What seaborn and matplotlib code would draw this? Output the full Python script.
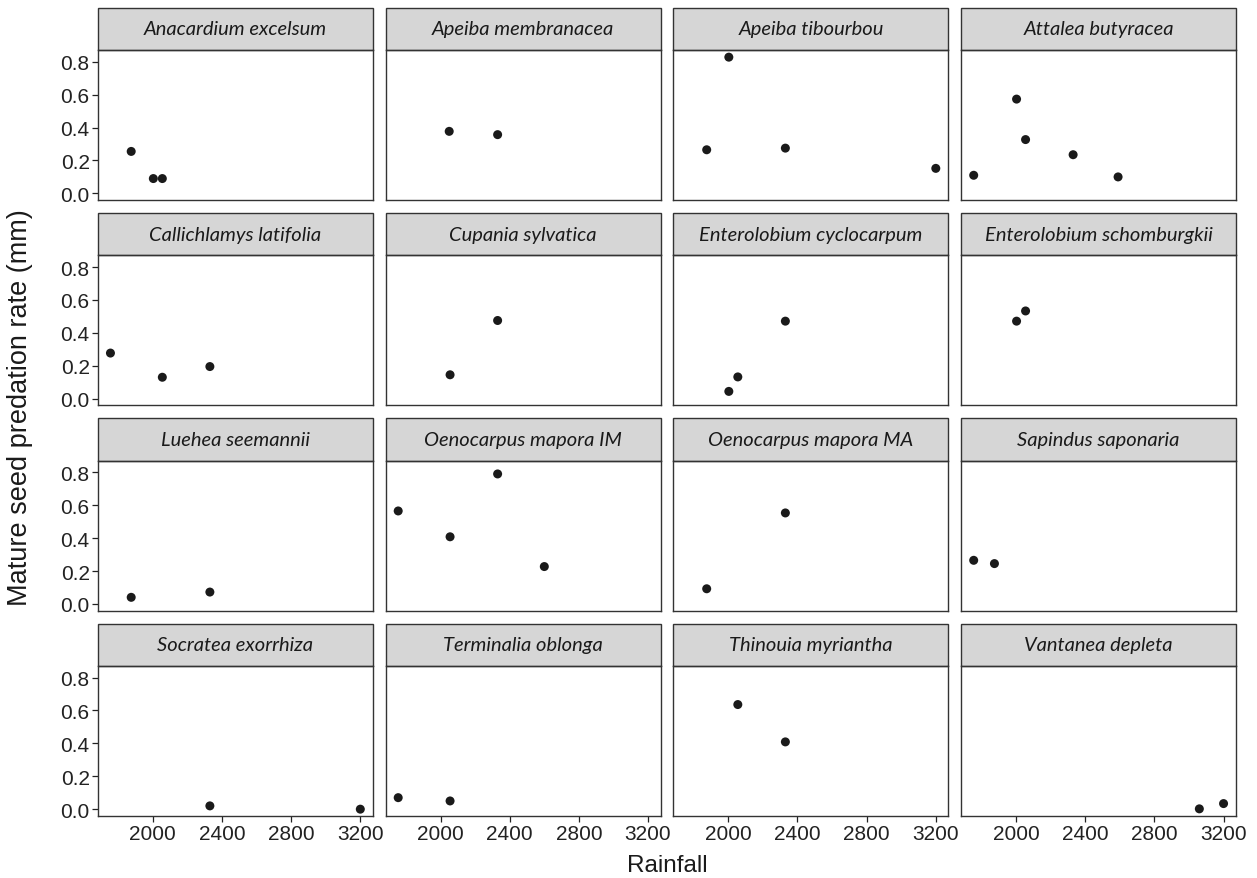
import matplotlib
matplotlib.use('Agg')
import matplotlib.pyplot as plt
import seaborn as sns
import pandas as pd
from matplotlib.patches import Rectangle
from matplotlib.ticker import FormatStrFormatter

# Panel order (facets)
species = ['Anacardium excelsum', 'Apeiba membranacea', 'Apeiba tibourbou', 'Attalea butyracea',
           'Callichlamys latifolia', 'Cupania sylvatica', 'Enterolobium cyclocarpum', 'Enterolobium schomburgkii',
           'Luehea seemannii', 'Oenocarpus mapora IM', 'Oenocarpus mapora MA', 'Sapindus saponaria',
           'Socratea exorrhiza', 'Terminalia oblonga', 'Thinouia myriantha', 'Vantanea depleta']

# One entry per point
point_species = (['Anacardium excelsum'] * 3 + ['Apeiba membranacea'] * 2 + ['Apeiba tibourbou'] * 4 +
                 ['Attalea butyracea'] * 5 + ['Callichlamys latifolia'] * 3 + ['Cupania sylvatica'] * 2 +
                 ['Enterolobium cyclocarpum'] * 3 + ['Enterolobium schomburgkii'] * 2 + ['Luehea seemannii'] * 2 +
                 ['Oenocarpus mapora IM'] * 4 + ['Oenocarpus mapora MA'] * 2 + ['Sapindus saponaria'] * 2 +
                 ['Socratea exorrhiza'] * 2 + ['Terminalia oblonga'] * 2 + ['Thinouia myriantha'] * 2 +
                 ['Vantanea depleta'] * 2)
rainfall = [1875, 2003, 2055,
            2050, 2330,
            1875, 2003, 2330, 3200,
            1755, 2003, 2055, 2330, 2590,
            1755, 2055, 2330,
            2055, 2330,
            2003, 2055, 2330,
            2003, 2055,
            1875, 2330,
            1755, 2055, 2330, 2600,
            1875, 2330,
            1755, 1875,
            2330, 3200,
            1755, 2055,
            2055, 2330,
            3060, 3200]
predation_rate = [0.255, 0.09, 0.09,
                  0.377, 0.357,
                  0.265, 0.828, 0.275, 0.152,
                  0.11, 0.573, 0.327, 0.235, 0.10,
                  0.277, 0.13, 0.195,
                  0.145, 0.475,
                  0.044, 0.132, 0.471,
                  0.471, 0.533,
                  0.04, 0.072,
                  0.565, 0.408, 0.79, 0.227,
                  0.092, 0.553,
                  0.265, 0.245,
                  0.02, 0.0,
                  0.07, 0.05,
                  0.636, 0.409,
                  0.002, 0.034]
x_ticks = [2000, 2400, 2800, 3200]
y_ticks = [0.0, 0.2, 0.4, 0.6, 0.8]

df = pd.DataFrame({'Species': point_species, 'Rainfall': rainfall, 'Rate': predation_rate})

sns.set_theme(style='white')
plt.rcParams['font.family'] = ['Liberation Sans', 'DejaVu Sans']

g = sns.relplot(data=df, x='Rainfall', y='Rate', col='Species', col_wrap=4, col_order=species,
                kind='scatter', color='#1a1a1a', s=42, edgecolor='none',
                height=2, aspect=1.8, facet_kws=dict(sharex=True, sharey=True))
fig = g.figure
fig.set_size_inches(12.57, 8.79)
fig.subplots_adjust(left=98 / 1257, right=1236 / 1257, top=1 - 51 / 879, bottom=1 - 817 / 879,
                    wspace=13 / 275, hspace=55 / 150)
g.set_titles('')
g.set_axis_labels('', '')

strip_h = 42 / 150
for i, ax in enumerate(g.axes.flat):
    row, col = divmod(i, 4)
    ax.set_xlim(1683, 3272)
    ax.set_ylim(-0.0415, 0.8715)
    ax.set_xticks(x_ticks)
    ax.set_yticks(y_ticks)
    ax.yaxis.set_major_formatter(FormatStrFormatter('%.1f'))
    for sp in ax.spines.values():
        sp.set_visible(True)
        sp.set_color('#333333')
        sp.set_linewidth(1.0)
    ax.tick_params(axis='both', labelsize=15, colors='#222222', length=4, width=0.9)
    if col != 0:
        ax.tick_params(axis='y', length=0, labelleft=False)
    else:
        ax.tick_params(axis='y', left=True, labelleft=True, pad=2)
    if row != 3:
        ax.tick_params(axis='x', length=0, labelbottom=False)
    else:
        ax.tick_params(axis='x', bottom=True, labelbottom=True, pad=2)
    ax.add_patch(Rectangle((0, 1), 1, strip_h, transform=ax.transAxes, clip_on=False,
                           facecolor='#d6d6d6', edgecolor='#333333', linewidth=1.0))
    ax.text(0.5, 1 + strip_h / 2, species[i], transform=ax.transAxes, ha='center', va='center',
            fontsize=14.5, style='italic', family=['Lato', 'DejaVu Sans'], color='#1a1a1a')

fig.text(667 / 1257, 1 - 866 / 879, 'Rainfall', ha='center', va='center', fontsize=17.5, color='#1a1a1a')
fig.text(20 / 1257, 1 - 408 / 879, 'Mature seed predation rate (mm)', ha='center', va='center',
         rotation=90, fontsize=19.5, color='#1a1a1a')

fig.savefig('out.png', dpi=100)
